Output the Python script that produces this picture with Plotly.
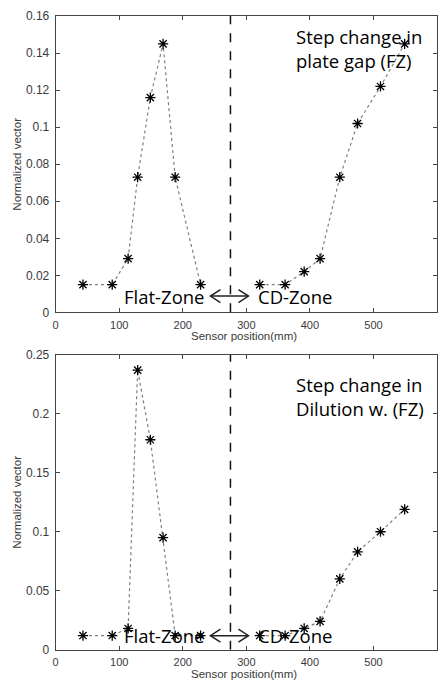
import plotly.graph_objects as go

# ---------------- data ----------------
sensor_fz = [43, 89, 114, 129, 149, 169, 188, 228]
sensor_cd = [321, 361, 391, 416, 447, 475, 511, 549]
plate_gap_fz = [0.015, 0.015, 0.029, 0.073, 0.116, 0.145, 0.073, 0.015]
plate_gap_cd = [0.015, 0.015, 0.022, 0.029, 0.073, 0.102, 0.122, 0.145]
dilution_fz = [0.012, 0.012, 0.018, 0.237, 0.178, 0.095, 0.012, 0.012]
dilution_cd = [0.012, 0.012, 0.018, 0.024, 0.060, 0.083, 0.100, 0.119]
boundary_x = 275
x_ticks = [0, 100, 200, 300, 400, 500, 600]
y_ticks_top = [0, 0.02, 0.04, 0.06, 0.08, 0.1, 0.12, 0.14, 0.16]
y_ticks_bot = [0, 0.05, 0.1, 0.15, 0.2, 0.25]
title_top = "Step change in<br>plate gap (FZ)"
title_bot = "Step change in<br>Dilution w. (FZ)"
x_title = "Sensor position(mm)"
y_title = "Normalized vector"

W, H = 445, 690
XTICKFONT = dict(family="Liberation Sans, Arial", size=11, color="#3a3a3a")
YTICKFONT = dict(family="Liberation Sans, Arial", size=12, color="#3a3a3a")
TEXTFONT = dict(family="Open Sans", size=18.5, color="#000000", weight=500)

fig = go.Figure()

line_style = dict(color="#808080", width=1.2, dash="dot")
marker_style = dict(symbol="asterisk-open", size=8.5, color="#000000",
                    line=dict(color="#000000", width=1.3))

for xs, ys, xa, ya in [
    (sensor_fz, plate_gap_fz, "x", "y"),
    (sensor_cd, plate_gap_cd, "x", "y"),
    (sensor_fz, dilution_fz, "x2", "y2"),
    (sensor_cd, dilution_cd, "x2", "y2"),
]:
    fig.add_trace(go.Scatter(x=xs, y=ys, mode="lines+markers", line=line_style,
                             marker=marker_style, xaxis=xa, yaxis=ya,
                             showlegend=False, hoverinfo="x+y"))

def px2py(p):
    return 1 - p / H

ax_common = dict(showgrid=False, zeroline=False, showline=True, mirror="ticks",
                 linecolor="#444444", linewidth=1, ticks="inside", ticklen=4,
                 tickcolor="#444444")

xdom = [53 / W, 437 / W]
fig.update_layout(
    width=W, height=H, margin=dict(l=0, r=0, t=0, b=0),
    paper_bgcolor="white", plot_bgcolor="white",
    xaxis=dict(domain=xdom, range=[0, 600], tickvals=x_ticks, anchor="y",
               ticklabelstandoff=2, tickfont=XTICKFONT, **ax_common),
    yaxis=dict(domain=[px2py(311.7), px2py(9.3)], range=[0, 0.16],
               tickvals=y_ticks_top, anchor="x", ticklabelstandoff=3,
               tickfont=YTICKFONT, **ax_common),
    xaxis2=dict(domain=xdom, range=[0, 600], tickvals=x_ticks, anchor="y2",
                ticklabelstandoff=2, tickfont=XTICKFONT, **ax_common),
    yaxis2=dict(domain=[px2py(656), px2py(355)], range=[0, 0.25],
                tickvals=y_ticks_bot, anchor="x2", ticklabelstandoff=3,
                tickfont=YTICKFONT, **ax_common),
)

shapes = []
annotations = []
for xa, ya, ytop, yarrow, ytext, title, xtitle_py, ytitle_py in [
    ("x", "y", 0.16, 0.0088, 0.1424, title_top, 335.5, 160),
    ("x2", "y2", 0.25, 0.0119, 0.2146, title_bot, 680.5, 505),
]:
    # dashed boundary
    shapes.append(dict(type="line", xref=xa, yref=ya, x0=boundary_x, x1=boundary_x,
                       y0=0, y1=ytop, line=dict(color="#111111", width=1.5, dash="dash")))
    # double arrow
    for path in ["M-20,0 L18,0", "M-10,6.5 L-20,0 L-10,-6.5", "M8,6.5 L18,0 L8,-6.5"]:
        shapes.append(dict(type="path", xref=xa, yref=ya, xsizemode="pixel",
                           ysizemode="pixel", xanchor=boundary_x, yanchor=yarrow,
                           path=path, line=dict(color="#222222", width=1.5)))
    annotations.append(dict(text="Flat-Zone", xref=xa, yref=ya, x=boundary_x, y=yarrow,
                            xshift=-23, xanchor="right", yanchor="middle",
                            showarrow=False, font=TEXTFONT))
    annotations.append(dict(text="CD-Zone", xref=xa, yref=ya, x=boundary_x, y=yarrow,
                            xshift=26, xanchor="left", yanchor="middle",
                            showarrow=False, font=TEXTFONT))
    annotations.append(dict(text=title, xref=xa, yref=ya, x=375, y=ytext,
                            xanchor="left", yanchor="middle", align="left",
                            showarrow=False, font=TEXTFONT))
    annotations.append(dict(text=x_title, xref="paper", yref="paper", x=243 / W,
                            y=px2py(xtitle_py), xanchor="center", yanchor="middle",
                            showarrow=False, font=dict(family="Liberation Sans, Arial",
                                                       size=11.5, color="#3a3a3a")))
    annotations.append(dict(text=y_title, xref="paper", yref="paper", x=14 / W,
                            y=px2py(ytitle_py), xanchor="center", yanchor="middle",
                            textangle=-90, showarrow=False,
                            font=dict(family="Liberation Sans, Arial", size=11.5,
                                      color="#3a3a3a")))

fig.update_layout(shapes=shapes, annotations=annotations)
fig.write_html("out.html")
